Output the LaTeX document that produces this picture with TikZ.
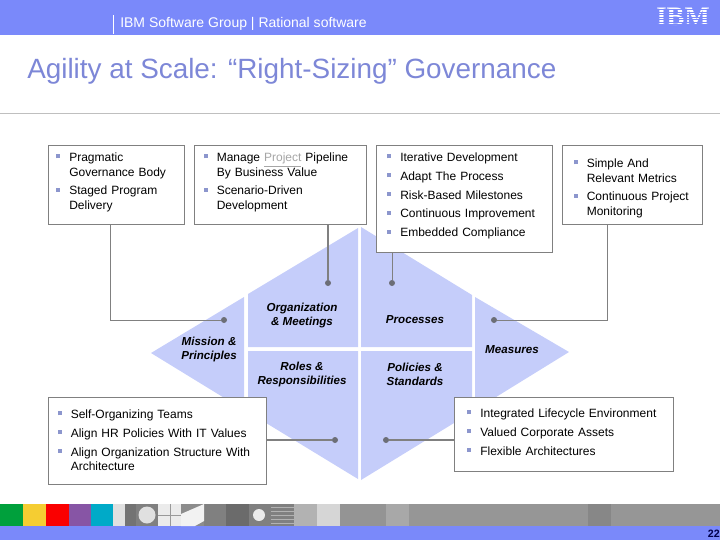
\documentclass[tikz,border=0pt]{standalone}
\usepackage{fontspec}
\setmainfont{Liberation Sans}
\newfontfamily\logofont{Liberation Serif}
\usetikzlibrary{fit}
\definecolor{bandblue}{RGB}{122,137,250}
\definecolor{titleblue}{RGB}{125,135,215}
\definecolor{diamondblue}{RGB}{197,205,250}
\definecolor{bulletblue}{RGB}{140,150,205}
\definecolor{linegray}{RGB}{128,128,128}
\definecolor{dotgray}{RGB}{108,110,118}
\definecolor{tilegreen}{RGB}{0,160,60}
\definecolor{tileyellow}{RGB}{245,205,50}
\definecolor{tilered}{RGB}{250,0,0}
\definecolor{tilepurple}{RGB}{135,85,165}
\definecolor{tileteal}{RGB}{0,170,200}
\newcommand{\bul}[1]{\par\hangindent=9.75pt\hangafter=1\noindent\makebox[9.75pt][l]{\raisebox{2.4pt}{\textcolor{bulletblue}{\rule{3pt}{3pt}}}}#1\par}
\begin{document}
\begin{tikzpicture} [x=0.75pt, y=-0.75pt,
		boxed/.style = {shape=rectangle, draw=linegray, line width=0.75pt, fill=white, inner sep=0pt},
		listing/.style = {anchor=north west, inner sep=0pt, align=left, text width=#1, font=\fontsize{9}{10.9}\selectfont\setlength{\parskip}{3.2pt}},
		part/.style = {align=center, font=\fontsize{8.7}{10.5}\selectfont\bfseries\itshape},
		dot/.style = {shape=circle, fill=dotgray, inner sep=0pt, minimum size=4.5pt},
		link/.style = {draw=linegray, line width=0.75pt},
		heavylink/.style = {draw=linegray, line width=1.6pt}]
	\useasboundingbox (0,0) rectangle (720,540);
	% header and footer
	\fill [bandblue] (0,0) rectangle (720,35);
	\fill [bandblue] (0,526) rectangle (720,540);
	\draw [white, line width=0.6pt] (113.5,15) -- (113.5,34);
	\node (group) [anchor=base west, inner sep=0pt, text=white, font=\fontsize{10.5}{12}\selectfont] at (120,27) {IBM Software Group | Rational software};
	\node (logo) [inner sep=0pt, text=white, font=\fontsize{20}{20}\selectfont\logofont\bfseries] at (683,17) {IBM};
	\foreach \stripe in {9.5,12,14.5,17,19.5,22,24.5} {
		\draw [bandblue, line width=0.5pt] (655,\stripe) -- (712,\stripe);
	}
	\node (title) [anchor=base west, inner sep=0pt, text=titleblue, font=\fontsize{20.9}{24}\selectfont] at (27,78) {Agility at Scale: “Right-Sizing” Governance};
	\draw [black!25, line width=0.75pt] (0,113) -- (720,113);
	\foreach \tilex/\tilew/\tilecol in {0/23/tilegreen, 23/23/tileyellow, 46/23/tilered, 69/22/tilepurple, 91/23/tileteal,
			136/22/black!50, 158/23/black!8, 181/23/black!45, 204/22/black!50, 226/23/black!58, 249/22/black!50, 271/23/black!50, 294/23/black!30, 317/23/black!16, 340/46/black!42, 386/23/black!34, 409/179/black!41, 588/23/black!47, 611/109/black!41} {
		\fill [\tilecol] (\tilex,504) rectangle ++(\tilew,22);
	}
	\fill [black!12] (113,504) rectangle (125,526);
	\fill [black!55] (125,504) rectangle (136,526);
	\fill [black!12] (147,515) circle [radius=8.5];
	\draw [black!40, line width=0.4pt] (158,515) -- (181,515) (170,504) -- (170,526);
	\fill [black!5] (181,514) -- (204,504) -- (204,521) -- (195,526) -- (181,526) -- cycle;
	\fill [black!8] (259,515) circle [radius=6];
	\foreach \stripe in {507,511,515,519,523} {
		\draw [black!30, line width=0.7pt] (271,\stripe) -- (294,\stripe);
	}
	\node (page) [anchor=base east, inner sep=0pt, text=blue!30!black, font=\fontsize{8}{10}\selectfont\bfseries] at (720,537) {22};
	% the diamond
	\fill [diamondblue] (151,353) -- (244,297) -- (244,410) -- cycle;
	\fill [diamondblue] (248,294) -- (358,228) -- (358,347) -- (248,347) -- cycle;
	\fill [diamondblue] (361,227) -- (472,295) -- (472,347) -- (361,347) -- cycle;
	\fill [diamondblue] (248,351) -- (358,351) -- (358,479) -- (248,412) -- cycle;
	\fill [diamondblue] (361,351) -- (472,351) -- (472,412) -- (361,480) -- cycle;
	\fill [diamondblue] (475,297) -- (569,352) -- (475,410) -- cycle;
	\node (mission) [part] at (209,349) {Mission \&\\Principles};
	\node (organization) [part] at (302,315) {Organization\\\& Meetings};
	\node (processes) [part] at (415,320) {Processes};
	\node (measures) [part] at (512,350) {Measures};
	\node (roles) [part] at (302,374) {Roles \&\\Responsibilities};
	\node (policies) [part] at (415,374) {Policies \&\\Standards};
	% boxes round the diamond
	\node (governance) [boxed, fit={(48,145) (184,224)}] {};
	\node (pipeline) [boxed, fit={(194,145) (366,224)}] {};
	\node (iterative) [boxed, fit={(376,145) (552,252)}] {};
	\node (metrics) [boxed, fit={(562,145) (702,224)}] {};
	\node (teams) [boxed, fit={(48,397) (266,484)}] {};
	\node (lifecycle) [boxed, fit={(454,397) (673,471)}] {};
	\node (governancetext) [listing=100pt] at (56,142.5) {\bul{Pragmatic\newline Governance Body}\bul{Staged Program\newline Delivery}};
	\node (pipelinetext) [listing=120pt] at (203.5,142.5) {\bul{Manage \textcolor{black!35}{\underline{Project}} Pipeline\newline By Business Value}\bul{Scenario-Driven\newline Development}};
	\node (iterativetext) [listing=125pt] at (387,142.5) {\bul{Iterative Development}\bul{Adapt The Process}\bul{Risk-Based Milestones}\bul{Continuous Improvement}\bul{Embedded Compliance}};
	\node (metricstext) [listing=100pt] at (573.5,148.5) {\bul{Simple And\newline Relevant Metrics}\bul{Continuous Project\newline Monitoring}};
	\node (teamstext) [listing=155pt] at (57.5,399.5) {\bul{Self-Organizing Teams}\bul{Align HR Policies With IT Values}\bul{Align Organization Structure With\newline Architecture}};
	\node (lifecycletext) [listing=155pt] at (467,398.5) {\bul{Integrated Lifecycle Environment}\bul{Valued Corporate Assets}\bul{Flexible Architectures}};
	% connectors
	\node (missiondot) [dot] at (224,320) {};
	\node (organizationdot) [dot] at (328,283) {};
	\node (processesdot) [dot] at (392,283) {};
	\node (measuresdot) [dot] at (494,320) {};
	\node (rolesdot) [dot] at (335,440) {};
	\node (policiesdot) [dot] at (386,440) {};
	\coordinate (governancefoot) at (110,224);
	\coordinate (metricsfoot) at (607,224);
	\draw [link] (governancefoot) |- (missiondot);
	\draw [link] (metricsfoot) |- (measuresdot);
	\draw [heavylink] (pipeline.south -| organizationdot) -- (organizationdot);
	\draw [link] (iterative.south -| processesdot) -- (processesdot);
	\draw [heavylink] (teams.east |- rolesdot) -- (rolesdot);
	\draw [heavylink] (lifecycle.west |- policiesdot) -- (policiesdot);
\end{tikzpicture}
\end{document}
